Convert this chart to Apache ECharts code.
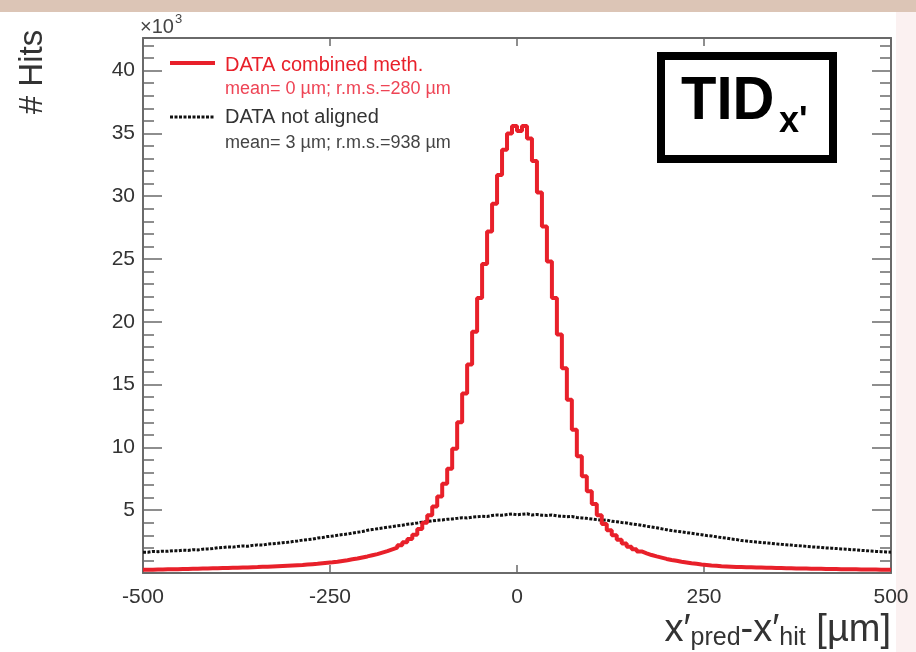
<!DOCTYPE html>
<html><head><meta charset="utf-8">
<script src="https://cdn.jsdelivr.net/npm/echarts@6/dist/echarts.min.js"></script>
<style>html,body{margin:0;padding:0;background:#fff}#c{width:916px;height:652px}</style>
</head><body><div id="c"></div>
<script>
// x range of the histograms (µm)
const xRange = [-500, 500];
const xTicks = [-500, -250, 0, 250, 500];
const yTicks = [5, 10, 15, 20, 25, 30, 35, 40];
// bin contents (×10^3 hits), ordered from -500 to +500
const redValues = [
0.26,0.26,0.27,0.28,0.29,0.30,0.30,0.31,0.32,0.33,0.34,0.35,0.36,0.37,0.38,0.39,0.40,0.41,0.42,0.43,
0.44,0.46,0.47,0.49,0.50,0.52,0.54,0.56,0.58,0.60,0.62,0.64,0.67,0.70,0.73,0.77,0.81,0.85,0.90,0.96,
1.02,1.09,1.16,1.24,1.32,1.41,1.50,1.62,1.74,1.88,2.02,2.20,2.45,2.70,3.05,3.50,4.00,4.60,5.30,6.10,
7.10,8.30,9.90,12.0,14.3,16.6,19.2,21.9,24.6,27.2,29.4,31.7,33.7,35.0,35.6,
35.2,35.6,34.6,32.8,30.3,27.6,24.8,21.9,19.0,16.3,13.8,11.4,9.3,7.7,6.5,5.5,4.6,3.9,3.4,3.0,
2.65,2.35,2.1,1.9,1.72,1.57,1.43,1.32,1.22,1.12,1.04,0.97,0.90,0.84,0.78,0.73,0.68,0.64,0.60,0.57,
0.54,0.52,0.50,0.48,0.47,0.46,0.45,0.44,0.43,0.42,0.41,0.40,0.39,0.38,0.37,0.36,0.35,0.35,0.34,0.33,
0.33,0.32,0.31,0.31,0.30,0.30,0.29,0.29,0.28,0.28,0.27,0.27,0.26,0.26,0.25];
const blackValues = [
1.66,1.72,1.70,1.74,1.73,1.78,1.76,1.82,1.80,1.86,1.84,1.90,1.92,1.95,2.01,
2.03,2.08,2.06,2.12,2.15,2.13,2.20,2.24,2.22,2.30,2.33,2.36,2.41,2.44,2.50,
2.55,2.62,2.66,2.70,2.78,2.82,2.90,2.94,3.00,3.06,3.10,3.18,3.24,3.30,3.40,
3.46,3.52,3.58,3.64,3.70,3.76,3.80,3.88,3.92,3.98,4.05,4.10,4.15,4.20,4.22,
4.28,4.30,4.35,4.40,4.38,4.45,4.48,4.52,4.50,4.58,4.62,4.60,4.65,4.70,4.64,
4.68,4.72,4.62,4.66,4.60,4.58,4.62,4.55,4.52,4.48,4.50,4.42,4.38,4.35,4.30,
4.25,4.20,4.22,4.12,4.08,4.02,3.98,3.90,3.86,3.80,3.72,3.66,3.60,3.52,3.45,
3.38,3.32,3.28,3.22,3.16,3.10,3.05,2.98,2.95,2.88,2.82,2.78,2.70,2.66,2.58,
2.55,2.50,2.46,2.42,2.40,2.36,2.32,2.28,2.25,2.22,2.18,2.16,2.12,2.08,2.06,
2.04,2.00,1.98,1.95,1.92,1.90,1.86,1.84,1.80,1.78,1.75,1.72,1.70,1.68,1.66];
const seriesNames = ['DATA combined meth.', 'DATA not aligned'];
const statLines = ['mean= 0 µm; r.m.s.=280 µm', 'mean= 3 µm; r.m.s.=938 µm'];

function histPoints(vals) {
  const w = (xRange[1] - xRange[0]) / vals.length;
  const pts = vals.map((v, i) => [xRange[0] + i * w, v]);
  pts.push([xRange[1], vals[vals.length - 1]]);
  return pts;
}

const FONT = 'Liberation Sans, Arial, Helvetica, sans-serif';
const axisCol = '#6a6a6a';
const chart = echarts.init(document.getElementById('c'), null, {renderer: 'canvas'});
const yFmt = v => (yTicks.indexOf(v) >= 0 ? String(v) : '');
const baseX = {
  type: 'value', min: xRange[0], max: xRange[1], interval: 250,
  axisLine: {show: true, onZero: false, lineStyle: {color: axisCol, width: 2}},
  axisTick: {show: true, inside: true, length: 8, lineStyle: {color: axisCol, width: 1.5}},
  splitLine: {show: false}
};
const baseY = {
  type: 'value', min: 0, max: 42.6, interval: 5,
  axisLine: {show: true, onZero: false, lineStyle: {color: axisCol, width: 2}},
  axisTick: {show: true, inside: true, length: 19, lineStyle: {color: axisCol, width: 1.5}},
  minorTick: {show: true, splitNumber: 5, length: 11, lineStyle: {color: axisCol, width: 1.5}},
  splitLine: {show: false}
};
chart.setOption({
  animation: false,
  backgroundColor: '#ffffff',
  grid: {left: 143, right: 25, top: 38, bottom: 79, containLabel: false},
  xAxis: [
    Object.assign({}, baseX, {position: 'bottom',
      axisLabel: {fontFamily: FONT, fontSize: 21, color: '#333', margin: 14,
        formatter: v => (xTicks.indexOf(v) >= 0 ? String(v) : '')},
      name: '{a|x′}{s|pred}{a|-x′}{s|hit}{a| [µm]}',
      nameLocation: 'end', nameGap: 0,
      nameTextStyle: {align: 'right', verticalAlign: 'top', padding: [37, 0, 0, 0],
        rich: {a: {fontFamily: FONT, fontSize: 38, color: '#333'},
               s: {fontFamily: FONT, fontSize: 25, color: '#333', padding: [16, 0, 0, 0]}}}
    }),
    Object.assign({}, baseX, {position: 'top', axisLabel: {show: false}})
  ],
  yAxis: [
    Object.assign({}, baseY, {position: 'left',
      axisLabel: {fontFamily: FONT, fontSize: 21, color: '#333', margin: 8, formatter: yFmt}}),
    Object.assign({}, baseY, {position: 'right', axisLabel: {show: false}})
  ],
  series: [
    {name: seriesNames[1], type: 'line', step: 'end', showSymbol: false, data: histPoints(blackValues),
     lineStyle: {color: '#111', width: 3, type: [3, 1.5]}, z: 3},
    {name: seriesNames[0], type: 'line', step: 'end', showSymbol: false, data: histPoints(redValues),
     lineStyle: {color: '#e8202a', width: 4}, z: 4}
  ],
  graphic: [
    {type: 'rect', shape: {x: 0, y: 0, width: 916, height: 12}, style: {fill: '#dcc5b6'}, silent: true, z: -1},
    {type: 'rect', shape: {x: 896, y: 12, width: 20, height: 640}, style: {fill: '#fbf1f1'}, silent: true, z: -1},
    {type: 'text', left: 140, top: 17, style: {text: '×10', font: '20px ' + FONT, fill: '#444'}},
    {type: 'text', left: 175, top: 13, style: {text: '3', font: '13px ' + FONT, fill: '#444'}},
    {type: 'text', x: 33, y: 72, rotation: Math.PI / 2,
     style: {text: '# Hits', font: '33px ' + FONT, fill: '#333', align: 'center', verticalAlign: 'middle'}},
    // legend
    {type: 'line', shape: {x1: 170, y1: 63, x2: 215, y2: 63}, style: {stroke: '#e8202a', lineWidth: 4}},
    {type: 'text', x: 225, y: 65, style: {text: seriesNames[0], font: '20px ' + FONT, fill: '#e8202a', verticalAlign: 'middle'}},
    {type: 'text', x: 225, y: 89, style: {text: statLines[0], font: '18px ' + FONT, fill: '#ee4455', verticalAlign: 'middle'}},
    {type: 'line', shape: {x1: 170, y1: 117, x2: 215, y2: 117}, style: {stroke: '#111', lineWidth: 3, lineDash: [3, 1.5]}},
    {type: 'text', x: 225, y: 117, style: {text: seriesNames[1], font: '20px ' + FONT, fill: '#333', verticalAlign: 'middle'}},
    {type: 'text', x: 225, y: 143, style: {text: statLines[1], font: '18px ' + FONT, fill: '#444', verticalAlign: 'middle'}},
    // TID box
    {type: 'rect', shape: {x: 661, y: 56, width: 172, height: 103}, style: {fill: '#fff', stroke: '#000', lineWidth: 8}},
    {type: 'text', x: 681, y: 133, scaleY: 1.05, style: {text: 'TID', font: 'bold 58px ' + FONT, fill: '#000', verticalAlign: 'bottom'}},
    {type: 'text', x: 779, y: 140, style: {text: "x'", font: 'bold 36px ' + FONT, fill: '#000', verticalAlign: 'bottom'}}
  ]
});
</script></body></html>
